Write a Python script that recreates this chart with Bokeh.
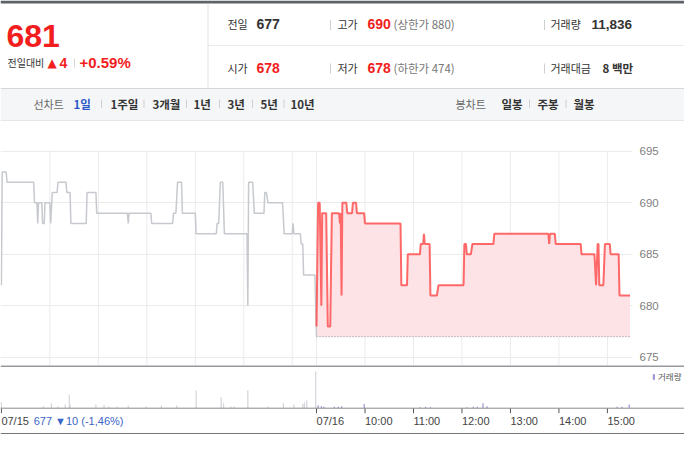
from bokeh.plotting import figure
from bokeh.layouts import column
from bokeh.models import Range1d, FixedTicker, ColumnDataSource, Span, Legend, LegendItem
from bokeh.core.properties import value
from bokeh.embed import file_html
from bokeh.resources import INLINE

# ---------------- data ----------------
# time axis: minutes since 07/15 09:00; 07/16 09:00 = 390 (each session 390 min)
prev_t = [0, 1, 6, 7, 40, 41, 44, 45, 46, 50, 51, 53, 54, 60, 61, 63, 69, 70, 80, 81,
          85, 86, 105, 106, 117, 118, 156, 157, 158, 185, 186, 212, 213, 216, 218, 223, 224, 240, 241, 266,
          267, 269, 271, 274, 276, 304, 305, 306, 311, 313, 325, 326, 328, 330, 348, 350, 360, 361, 362, 370,
          371, 373, 374, 388, 390]
prev_p = [682, 693, 693, 692, 692, 690, 690, 688, 690, 690, 688, 688, 690, 690, 688, 691, 691, 692, 692, 691,
          691, 688, 688, 691, 691, 689, 689, 688, 689, 689, 688, 688, 689, 689, 692, 692, 689, 689, 687, 687,
          688, 688, 692, 692, 687, 687, 680, 692, 692, 689, 689, 691, 691, 690, 690, 687, 687, 688, 687, 687,
          686, 686, 683, 683, 677]

today_t = [390, 392, 394, 396, 397, 402, 404, 407, 409, 418, 419, 420, 421, 422, 427, 428, 434, 435, 439, 440,
           449, 450, 494, 495, 502, 503, 518, 519, 522, 523, 524, 530, 531, 539, 541, 572, 573, 575, 576, 581,
           583, 609, 610, 677, 678, 679, 685, 686, 717, 718, 734, 736, 738, 739, 740, 745, 747, 753, 754, 764,
           765, 778]
today_p = [678, 690, 690, 680, 689, 689, 678, 678, 689, 689, 688, 689, 681, 690, 690, 689, 689, 690, 690, 689,
           689, 688, 688, 682, 682, 685, 685, 686, 686, 687, 686, 686, 681, 681, 682, 682, 686, 686, 685, 685,
           686, 686, 687, 687, 686, 687, 687, 686, 686, 685, 685, 682, 686, 686, 682, 682, 686, 686, 685, 685,
           681, 681]

prev_close = 677

prev_vol_t = [0, 52, 62, 70, 79, 84, 85, 117, 127, 133, 143, 157, 179, 198, 217, 241, 272, 275, 284, 288,
              305, 330, 349, 362, 373, 375, 378, 389]
prev_vol = [1200, 400, 1000, 350, 750, 2750, 750, 750, 650, 350, 350, 550, 350, 550, 550, 3550, 2200, 1000, 350, 350,
            3550, 350, 1000, 750, 850, 1200, 1550, 7350]
today_vol_t = [392, 396, 399, 412, 417, 421, 449, 518, 525, 531, 576, 584, 589, 596, 601, 762, 768, 777]
today_vol = [600, 400, 300, 300, 300, 400, 860, 200, 300, 200, 200, 300, 300, 1000, 400, 300, 300, 740]

price_ticks = [675, 680, 685, 690, 695]
grid_t = [60, 120, 180, 240, 300, 360, 390, 450, 510, 570, 630, 690, 750]
time_ticks = [0, 390, 450, 510, 570, 630, 690, 750]
time_labels = ["07/15", "07/16", "10:00", "11:00", "12:00", "13:00", "14:00", "15:00"]
prev_day_info = "677 ▼10 (-1,46%)"

# ---------------- style ----------------
W = 684
KR = "Noto Sans CJK KR"
LS = "Liberation Sans"
RED = "#f21d1d"
DARK = "#333333"
GRAY = "#777777"
BLUE = "#2c58c8"
TABG = "#666666"

def base_fig(**kw):
    p = figure(output_backend="svg", toolbar_location=None, **kw)
    p.frame_align = False
    p.outline_line_color = None
    return p

# ---------------- header ----------------
hdr = base_fig(width=W, height=121, x_range=Range1d(0, 684), y_range=Range1d(121, 0),
               x_axis_location=None, y_axis_location=None, min_border=0)
hdr.grid.visible = False

hdr.quad(left=[0], right=[684], top=[0], bottom=[3], fill_color="#5d6168", line_color=None)
hdr.quad(left=[0], right=[684], top=[88], bottom=[120.5], fill_color="#f5f6f8", line_color=None)

seg = dict(x0=[], y0=[], x1=[], y1=[], c=[])
def add_seg(x0, y0, x1, y1, c):
    seg["x0"].append(x0); seg["y0"].append(y0); seg["x1"].append(x1); seg["y1"].append(y1); seg["c"].append(c)

add_seg(207.5, 3, 207.5, 88, "#e0e2e5")
add_seg(207.5, 45, 684, 45, "#e8e9eb")
add_seg(0, 88, 684, 88, "#d3d6da")
add_seg(0, 120.5, 684, 120.5, "#d3d6da")
add_seg(74, 58, 74, 67, "#d8d8d8")
for xs in (330, 544):
    add_seg(xs, 19.5, xs, 29.5, "#cfcfcf")
    add_seg(xs, 63, xs, 73, "#cfcfcf")
for xs in (101, 143.5, 186, 219, 252, 283.5, 529, 565.5):
    add_seg(xs, 99, xs, 107.5, "#d0d0d0")
hdr.segment(x0="x0", y0="y0", x1="x1", y1="y1", line_color="c", line_width=1, source=ColumnDataSource(seg))

R1, R2, TB = 23.8, 67.6, 103.2
T = [
    (6, 35, "681", RED, "32px", "bold", LS),
    (7, 62, "전일대비", DARK, "10px", "normal", KR),
    (47, 62, "▲", RED, "12px", "normal", "DejaVu Sans"),
    (59, 62, "4", RED, "14px", "bold", LS),
    (79, 62, "+0.59%", RED, "15px", "bold", LS),
    (227, R1, "전일", DARK, "11px", "normal", KR),
    (256, R1, "677", DARK, "14px", "bold", LS),
    (337, R1, "고가", DARK, "11px", "normal", KR),
    (367, R1, "690", RED, "14px", "bold", LS),
    (393, R1, "(상한가 880)", GRAY, "11.5px", "normal", KR),
    (550, R1, "거래량", DARK, "11px", "normal", KR),
    (591, R1, "11,836", DARK, "13.5px", "bold", LS),
    (227, R2, "시가", DARK, "11px", "normal", KR),
    (256, R2, "678", RED, "14px", "bold", LS),
    (337, R2, "저가", DARK, "11px", "normal", KR),
    (367, R2, "678", RED, "14px", "bold", LS),
    (393, R2, "(하한가 474)", GRAY, "11.5px", "normal", KR),
    (550, R2, "거래대금", DARK, "11px", "normal", KR),
    (602, R2, "8 백만", DARK, "11.5px", "bold", KR),
    (33, TB, "선차트", TABG, "11px", "normal", KR),
    (73, TB, "1일", BLUE, "11.5px", "bold", KR),
    (110, TB, "1주일", DARK, "11.5px", "bold", KR),
    (152, TB, "3개월", DARK, "11.5px", "bold", KR),
    (193, TB, "1년", DARK, "11.5px", "bold", KR),
    (227, TB, "3년", DARK, "11.5px", "bold", KR),
    (260, TB, "5년", DARK, "11.5px", "bold", KR),
    (290, TB, "10년", DARK, "11.5px", "bold", KR),
    (455, TB, "봉차트", TABG, "11px", "normal", KR),
    (501, TB, "일봉", DARK, "11.5px", "bold", KR),
    (537, TB, "주봉", DARK, "11.5px", "bold", KR),
    (573, TB, "월봉", DARK, "11.5px", "bold", KR),
]
tsrc = ColumnDataSource(dict(
    x=[t[0] for t in T], y=[t[1] for t in T], text=[t[2] for t in T], c=[t[3] for t in T],
    s=[t[4] for t in T], st=[t[5] for t in T], f=[t[6] for t in T]))
hdr.text(x="x", y="y", text="text", text_color="c", text_font_size="s", text_font_style="st",
         text_font="f", text_align="left", text_baseline="middle", source=tsrc)

# ---------------- price pane ----------------
pf = base_fig(width=W, height=244, x_range=Range1d(-1.1, 781.1), y_range=Range1d(674.2, 697.9),
              x_axis_location=None, y_axis_location="right",
              min_border_left=0, min_border_right=52, min_border_top=0, min_border_bottom=0)
pf.yaxis.ticker = FixedTicker(ticks=price_ticks)
pf.yaxis.axis_line_color = None
pf.yaxis.major_tick_line_color = None
pf.yaxis.minor_tick_line_color = None
pf.yaxis.major_tick_out = 0
pf.yaxis.major_tick_in = 0
pf.yaxis.minor_tick_out = 0
pf.yaxis.major_label_standoff = 7
pf.yaxis.major_label_text_font = LS
pf.yaxis.major_label_text_font_size = "11.5px"
pf.yaxis.major_label_text_color = "#808080"
pf.ygrid.ticker = FixedTicker(ticks=price_ticks)
pf.ygrid.grid_line_color = "#ebebeb"
pf.xgrid.visible = False

pf.segment(x0=grid_t, y0=[pf.y_range.start] * len(grid_t), x1=grid_t, y1=[max(price_ticks)] * len(grid_t),
           line_color="#ebebeb", line_width=1)

pf.varea(x=today_t, y1=[prev_close] * len(today_t), y2=today_p, fill_color="#fde3e6")
pf.line(x=[today_t[0], today_t[-1]], y=[prev_close, prev_close], line_color="#888888",
        line_dash="1 2", line_width=1)
pf.line(x=prev_t, y=prev_p, line_color="#c6c9ce", line_width=1.5)
pf.line(x=today_t, y=today_p, line_color="#ff4646", line_alpha=0.8, line_width=2)

# ---------------- volume pane ----------------
SH = 200  # shares per pixel
vf = base_fig(width=W, height=69, x_range=Range1d(-1.1, 845.4), y_range=Range1d(-26.3 * SH, 42.7 * SH),
              x_axis_location=None, y_axis_location=None, min_border=0)
vf.grid.visible = False

vf.add_layout(Span(location=42.2 * SH, dimension="width", line_color="#73777c", line_width=1.5))
vf.add_layout(Span(location=0, dimension="width", line_color="#8a8a8a", line_width=1))
vf.add_layout(Span(location=-25.5 * SH, dimension="width", line_color="#73777c", line_width=1.5))

vf.vbar(x=prev_vol_t, top=prev_vol, width=1.5, fill_color="#d2d5da", line_color=None)
r_today = vf.vbar(x=today_vol_t, top=today_vol, width=1.5, fill_color="#a294d4", line_color=None)

vf.segment(x0=time_ticks, y0=[0] * len(time_ticks), x1=time_ticks, y1=[-5 * SH] * len(time_ticks),
           line_color="#555555", line_width=1)
vf.text(x=time_ticks, y=[-12.3 * SH] * len(time_ticks), text=time_labels, text_color="#444444",
        text_font=value(LS), text_font_size="11px", text_align="left", text_baseline="middle")
vf.text(x=[40], y=[-12.3 * SH], text=[prev_day_info],
        text_color="#3a66c9", text_font=value(LS), text_font_size="11px",
        text_align="left", text_baseline="middle")

leg = Legend(items=[LegendItem(label="거래량", renderers=[r_today])], location=(652, 52),
             margin=0, padding=2, spacing=0, glyph_width=3, glyph_height=7, label_standoff=3,
             label_height=12, label_text_font=KR, label_text_font_size="8.5px",
             label_text_color="#555555", border_line_color=None, background_fill_alpha=0)
vf.add_layout(leg)

layout = column(hdr, pf, vf, spacing=0)
open("out.html", "w").write(file_html(layout, INLINE))
